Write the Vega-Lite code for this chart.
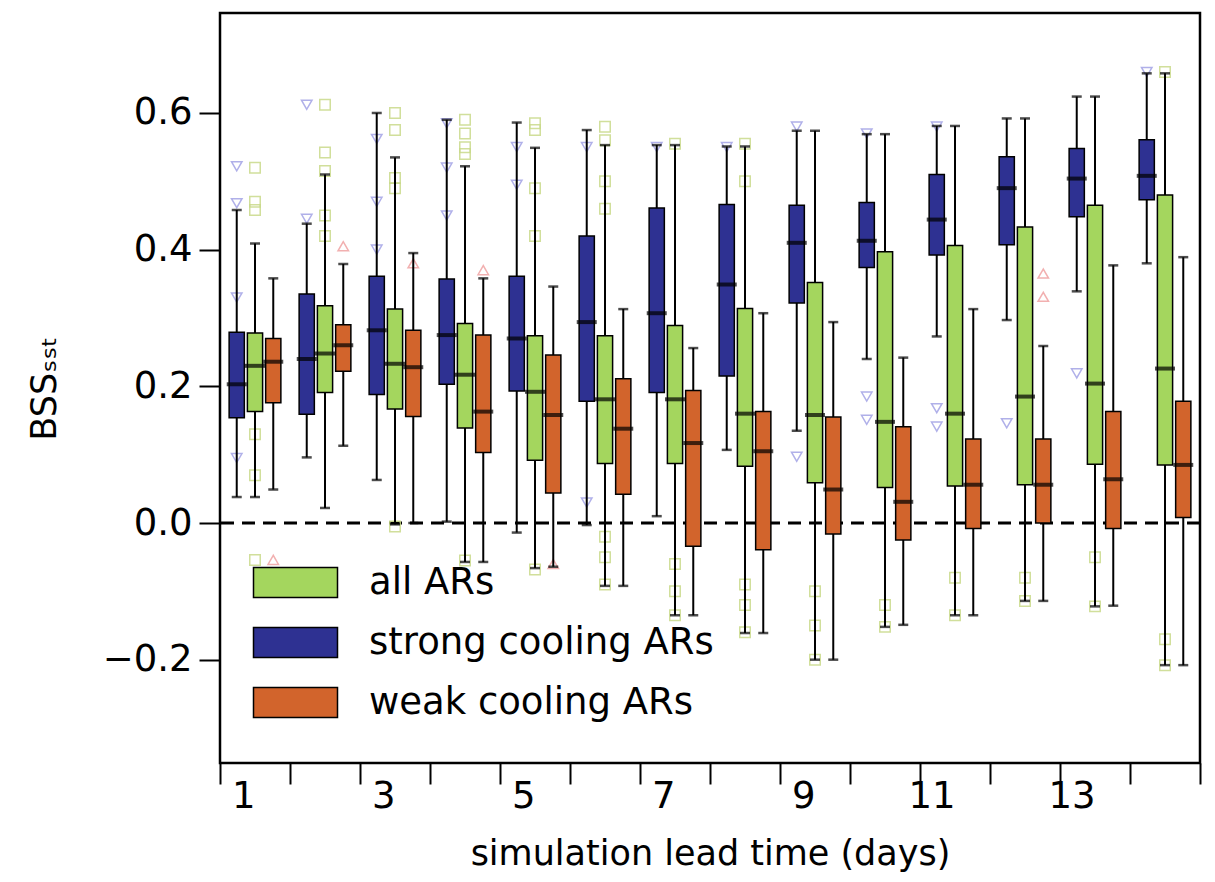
{
  "$schema": "https://vega.github.io/schema/vega-lite/v6.json",
  "width": 980,
  "height": 750,
  "autosize": {"type": "none"},
  "padding": {"left": 220, "top": 13, "right": 15, "bottom": 119},
  "background": "white",
  "config": {
    "font": "DejaVu Sans",
    "view": {"stroke": "black", "strokeWidth": 2.5},
    "axis": {
      "domain": false, "grid": false, "tickColor": "black", "tickWidth": 2, "tickSize": 21,
      "labelColor": "black", "titleColor": "black", "labelFont": "DejaVu Sans", "titleFont": "DejaVu Sans",
      "labelFontSize": 37, "titleFontSize": 35, "titleFontWeight": "normal"
    }
  },
  "datasets": {
    "boxes": [
      {"day": 1, "group": "strong cooling ARs", "lo": 0.038, "q1": 0.154, "med": 0.203, "q3": 0.279, "hi": 0.458},
      {"day": 1, "group": "all ARs", "lo": 0.038, "q1": 0.163, "med": 0.230, "q3": 0.278, "hi": 0.409},
      {"day": 1, "group": "weak cooling ARs", "lo": 0.049, "q1": 0.176, "med": 0.236, "q3": 0.270, "hi": 0.358},
      {"day": 2, "group": "strong cooling ARs", "lo": 0.096, "q1": 0.159, "med": 0.240, "q3": 0.335, "hi": 0.438},
      {"day": 2, "group": "all ARs", "lo": 0.022, "q1": 0.191, "med": 0.248, "q3": 0.318, "hi": 0.510},
      {"day": 2, "group": "weak cooling ARs", "lo": 0.113, "q1": 0.222, "med": 0.260, "q3": 0.290, "hi": 0.379},
      {"day": 3, "group": "strong cooling ARs", "lo": 0.063, "q1": 0.188, "med": 0.282, "q3": 0.361, "hi": 0.600},
      {"day": 3, "group": "all ARs", "lo": -0.002, "q1": 0.167, "med": 0.233, "q3": 0.313, "hi": 0.535},
      {"day": 3, "group": "weak cooling ARs", "lo": 0.000, "q1": 0.156, "med": 0.228, "q3": 0.282, "hi": 0.395},
      {"day": 4, "group": "strong cooling ARs", "lo": 0.002, "q1": 0.203, "med": 0.275, "q3": 0.357, "hi": 0.590},
      {"day": 4, "group": "all ARs", "lo": -0.057, "q1": 0.139, "med": 0.217, "q3": 0.292, "hi": 0.522},
      {"day": 4, "group": "weak cooling ARs", "lo": -0.057, "q1": 0.103, "med": 0.163, "q3": 0.275, "hi": 0.358},
      {"day": 5, "group": "strong cooling ARs", "lo": -0.014, "q1": 0.193, "med": 0.270, "q3": 0.361, "hi": 0.586},
      {"day": 5, "group": "all ARs", "lo": -0.066, "q1": 0.092, "med": 0.192, "q3": 0.274, "hi": 0.549},
      {"day": 5, "group": "weak cooling ARs", "lo": -0.064, "q1": 0.044, "med": 0.158, "q3": 0.246, "hi": 0.346},
      {"day": 6, "group": "strong cooling ARs", "lo": -0.003, "q1": 0.178, "med": 0.294, "q3": 0.420, "hi": 0.575},
      {"day": 6, "group": "all ARs", "lo": -0.092, "q1": 0.087, "med": 0.181, "q3": 0.274, "hi": 0.553},
      {"day": 6, "group": "weak cooling ARs", "lo": -0.092, "q1": 0.042, "med": 0.138, "q3": 0.211, "hi": 0.313},
      {"day": 7, "group": "strong cooling ARs", "lo": 0.010, "q1": 0.191, "med": 0.307, "q3": 0.461, "hi": 0.553},
      {"day": 7, "group": "all ARs", "lo": -0.135, "q1": 0.087, "med": 0.181, "q3": 0.289, "hi": 0.553},
      {"day": 7, "group": "weak cooling ARs", "lo": -0.135, "q1": -0.034, "med": 0.117, "q3": 0.194, "hi": 0.256},
      {"day": 8, "group": "strong cooling ARs", "lo": 0.107, "q1": 0.215, "med": 0.349, "q3": 0.466, "hi": 0.551},
      {"day": 8, "group": "all ARs", "lo": -0.161, "q1": 0.083, "med": 0.160, "q3": 0.314, "hi": 0.551},
      {"day": 8, "group": "weak cooling ARs", "lo": -0.161, "q1": -0.039, "med": 0.105, "q3": 0.163, "hi": 0.307},
      {"day": 9, "group": "strong cooling ARs", "lo": 0.135, "q1": 0.322, "med": 0.410, "q3": 0.465, "hi": 0.574},
      {"day": 9, "group": "all ARs", "lo": -0.200, "q1": 0.059, "med": 0.158, "q3": 0.352, "hi": 0.574},
      {"day": 9, "group": "weak cooling ARs", "lo": -0.200, "q1": -0.016, "med": 0.049, "q3": 0.155, "hi": 0.294},
      {"day": 10, "group": "strong cooling ARs", "lo": 0.240, "q1": 0.374, "med": 0.413, "q3": 0.469, "hi": 0.569},
      {"day": 10, "group": "all ARs", "lo": -0.152, "q1": 0.052, "med": 0.148, "q3": 0.397, "hi": 0.569},
      {"day": 10, "group": "weak cooling ARs", "lo": -0.149, "q1": -0.025, "med": 0.031, "q3": 0.141, "hi": 0.242},
      {"day": 11, "group": "strong cooling ARs", "lo": 0.273, "q1": 0.392, "med": 0.444, "q3": 0.510, "hi": 0.581},
      {"day": 11, "group": "all ARs", "lo": -0.135, "q1": 0.054, "med": 0.160, "q3": 0.406, "hi": 0.581},
      {"day": 11, "group": "weak cooling ARs", "lo": -0.135, "q1": -0.008, "med": 0.056, "q3": 0.123, "hi": 0.313},
      {"day": 12, "group": "strong cooling ARs", "lo": 0.297, "q1": 0.407, "med": 0.490, "q3": 0.536, "hi": 0.592},
      {"day": 12, "group": "all ARs", "lo": -0.114, "q1": 0.056, "med": 0.185, "q3": 0.433, "hi": 0.592},
      {"day": 12, "group": "weak cooling ARs", "lo": -0.114, "q1": 0.000, "med": 0.056, "q3": 0.123, "hi": 0.259},
      {"day": 13, "group": "strong cooling ARs", "lo": 0.339, "q1": 0.448, "med": 0.504, "q3": 0.548, "hi": 0.624},
      {"day": 13, "group": "all ARs", "lo": -0.122, "q1": 0.086, "med": 0.204, "q3": 0.465, "hi": 0.624},
      {"day": 13, "group": "weak cooling ARs", "lo": -0.121, "q1": -0.008, "med": 0.064, "q3": 0.163, "hi": 0.377},
      {"day": 14, "group": "strong cooling ARs", "lo": 0.380, "q1": 0.473, "med": 0.508, "q3": 0.561, "hi": 0.658},
      {"day": 14, "group": "all ARs", "lo": -0.208, "q1": 0.085, "med": 0.226, "q3": 0.480, "hi": 0.658},
      {"day": 14, "group": "weak cooling ARs", "lo": -0.208, "q1": 0.008, "med": 0.085, "q3": 0.178, "hi": 0.389}
    ],
    "outliers": [
      {"day": 1, "group": "strong cooling ARs", "value": 0.522}, {"day": 1, "group": "strong cooling ARs", "value": 0.468},
      {"day": 1, "group": "strong cooling ARs", "value": 0.33}, {"day": 1, "group": "strong cooling ARs", "value": 0.095},
      {"day": 1, "group": "all ARs", "value": 0.520}, {"day": 1, "group": "all ARs", "value": 0.470}, {"day": 1, "group": "all ARs", "value": 0.458},
      {"day": 1, "group": "all ARs", "value": 0.13}, {"day": 1, "group": "all ARs", "value": 0.07}, {"day": 1, "group": "all ARs", "value": -0.054},
      {"day": 1, "group": "weak cooling ARs", "value": -0.054},
      {"day": 2, "group": "strong cooling ARs", "value": 0.612}, {"day": 2, "group": "strong cooling ARs", "value": 0.445},
      {"day": 2, "group": "all ARs", "value": 0.612}, {"day": 2, "group": "all ARs", "value": 0.542}, {"day": 2, "group": "all ARs", "value": 0.515},
      {"day": 2, "group": "all ARs", "value": 0.45}, {"day": 2, "group": "all ARs", "value": 0.42},
      {"day": 2, "group": "weak cooling ARs", "value": 0.405},
      {"day": 3, "group": "strong cooling ARs", "value": 0.562}, {"day": 3, "group": "strong cooling ARs", "value": 0.47}, {"day": 3, "group": "strong cooling ARs", "value": 0.40},
      {"day": 3, "group": "all ARs", "value": 0.600}, {"day": 3, "group": "all ARs", "value": 0.575}, {"day": 3, "group": "all ARs", "value": 0.505},
      {"day": 3, "group": "all ARs", "value": 0.49}, {"day": 3, "group": "all ARs", "value": -0.005},
      {"day": 3, "group": "weak cooling ARs", "value": 0.38},
      {"day": 4, "group": "strong cooling ARs", "value": 0.585}, {"day": 4, "group": "strong cooling ARs", "value": 0.52}, {"day": 4, "group": "strong cooling ARs", "value": 0.45},
      {"day": 4, "group": "all ARs", "value": 0.590}, {"day": 4, "group": "all ARs", "value": 0.570}, {"day": 4, "group": "all ARs", "value": 0.550},
      {"day": 4, "group": "all ARs", "value": 0.540}, {"day": 4, "group": "all ARs", "value": -0.055},
      {"day": 4, "group": "weak cooling ARs", "value": 0.37},
      {"day": 5, "group": "strong cooling ARs", "value": 0.495}, {"day": 5, "group": "strong cooling ARs", "value": 0.55},
      {"day": 5, "group": "all ARs", "value": 0.585}, {"day": 5, "group": "all ARs", "value": 0.575}, {"day": 5, "group": "all ARs", "value": 0.490},
      {"day": 5, "group": "all ARs", "value": 0.420}, {"day": 5, "group": "all ARs", "value": -0.068},
      {"day": 5, "group": "weak cooling ARs", "value": -0.06},
      {"day": 6, "group": "strong cooling ARs", "value": 0.03}, {"day": 6, "group": "strong cooling ARs", "value": 0.55},
      {"day": 6, "group": "all ARs", "value": 0.580}, {"day": 6, "group": "all ARs", "value": 0.560}, {"day": 6, "group": "all ARs", "value": 0.500},
      {"day": 6, "group": "all ARs", "value": 0.460}, {"day": 6, "group": "all ARs", "value": -0.09}, {"day": 6, "group": "all ARs", "value": -0.05},
      {"day": 6, "group": "all ARs", "value": -0.02},
      {"day": 7, "group": "all ARs", "value": 0.555}, {"day": 7, "group": "all ARs", "value": -0.135}, {"day": 7, "group": "all ARs", "value": -0.10},
      {"day": 7, "group": "all ARs", "value": -0.06}, {"day": 7, "group": "strong cooling ARs", "value": 0.55},
      {"day": 8, "group": "all ARs", "value": 0.555}, {"day": 8, "group": "all ARs", "value": -0.16}, {"day": 8, "group": "all ARs", "value": -0.12},
      {"day": 8, "group": "all ARs", "value": -0.09}, {"day": 8, "group": "all ARs", "value": 0.50}, {"day": 8, "group": "strong cooling ARs", "value": 0.55},
      {"day": 9, "group": "strong cooling ARs", "value": 0.097}, {"day": 9, "group": "all ARs", "value": -0.200}, {"day": 9, "group": "all ARs", "value": -0.15},
      {"day": 9, "group": "all ARs", "value": -0.10}, {"day": 9, "group": "strong cooling ARs", "value": 0.58},
      {"day": 10, "group": "strong cooling ARs", "value": 0.185}, {"day": 10, "group": "strong cooling ARs", "value": 0.151},
      {"day": 10, "group": "all ARs", "value": -0.152}, {"day": 10, "group": "all ARs", "value": -0.12}, {"day": 10, "group": "strong cooling ARs", "value": 0.57},
      {"day": 11, "group": "strong cooling ARs", "value": 0.168}, {"day": 11, "group": "strong cooling ARs", "value": 0.141},
      {"day": 11, "group": "all ARs", "value": -0.135}, {"day": 11, "group": "all ARs", "value": -0.08}, {"day": 11, "group": "strong cooling ARs", "value": 0.58},
      {"day": 12, "group": "strong cooling ARs", "value": 0.146}, {"day": 12, "group": "weak cooling ARs", "value": 0.365}, {"day": 12, "group": "weak cooling ARs", "value": 0.331},
      {"day": 12, "group": "all ARs", "value": -0.114}, {"day": 12, "group": "all ARs", "value": -0.08},
      {"day": 13, "group": "strong cooling ARs", "value": 0.219}, {"day": 13, "group": "all ARs", "value": -0.122}, {"day": 13, "group": "all ARs", "value": -0.05},
      {"day": 14, "group": "all ARs", "value": -0.208}, {"day": 14, "group": "all ARs", "value": -0.17}, {"day": 14, "group": "strong cooling ARs", "value": 0.66},
      {"day": 14, "group": "all ARs", "value": 0.66}
    ]
  },
  "layer": [
    {
      "data": {"values": [{}]},
      "mark": {"type": "rule", "strokeDash": [13, 8], "strokeWidth": 2.8, "color": "black"},
      "encoding": {"y": {"datum": 0, "type": "quantitative", "title": "BSSₛₛₜ"}}
    },
    {
      "data": {"name": "outliers"},
      "mark": {"type": "point", "filled": false, "strokeWidth": 1.5, "size": 110, "opacity": 0.85},
      "encoding": {
        "x": {"field": "day", "type": "ordinal", "title": "simulation lead time (days)"},
        "xOffset": {"field": "group", "type": "nominal", "scale": {"domain": ["strong cooling ARs", "all ARs", "weak cooling ARs"], "paddingInner": 0.167, "paddingOuter": 0.5}},
        "y": {"field": "value", "type": "quantitative", "title": "BSSₛₛₜ"},
        "shape": {"field": "group", "type": "nominal", "scale": {"domain": ["strong cooling ARs", "all ARs", "weak cooling ARs"], "range": ["triangle-down", "square", "triangle-up"]}, "legend": null},
        "stroke": {"field": "group", "type": "nominal", "scale": {"domain": ["strong cooling ARs", "all ARs", "weak cooling ARs"], "range": ["#a3a3e6", "#c9da8a", "#f0a3a3"]}, "legend": null}
      }
    },
    {
      "data": {"name": "boxes"},
      "mark": {"type": "rule", "strokeWidth": 2, "color": "black"},
      "encoding": {
        "x": {
          "field": "day", "type": "ordinal", "title": "simulation lead time (days)",
          "scale": {"paddingInner": 0, "paddingOuter": 0},
          "axis": {"labelAngle": 0, "tickBand": "extent", "labelExpr": "datum.value % 2 == 1 ? datum.label : ''", "labelPadding": 12, "titlePadding": 22}
        },
        "xOffset": {"field": "group", "type": "nominal", "scale": {"domain": ["strong cooling ARs", "all ARs", "weak cooling ARs"], "paddingInner": 0.167, "paddingOuter": 0.5}},
        "y": {
          "field": "lo", "type": "quantitative", "title": "BSSₛₛₜ",
          "scale": {"domain": [-0.3512, 0.7463], "nice": false, "zero": false},
          "axis": {"values": [-0.2, 0, 0.2, 0.4, 0.6], "format": ".1f", "labelPadding": 7, "titlePadding": 40}
        },
        "y2": {"field": "hi"}
      }
    },
    {
      "data": {"name": "boxes"},
      "mark": {"type": "tick", "color": "black", "thickness": 2.5, "size": 10},
      "encoding": {
        "x": {"field": "day", "type": "ordinal", "title": "simulation lead time (days)"},
        "xOffset": {"field": "group", "type": "nominal", "scale": {"domain": ["strong cooling ARs", "all ARs", "weak cooling ARs"], "paddingInner": 0.167, "paddingOuter": 0.5}},
        "y": {"field": "lo", "type": "quantitative", "title": "BSSₛₛₜ"}
      }
    },
    {
      "data": {"name": "boxes"},
      "mark": {"type": "tick", "color": "black", "thickness": 2.5, "size": 10},
      "encoding": {
        "x": {"field": "day", "type": "ordinal", "title": "simulation lead time (days)"},
        "xOffset": {"field": "group", "type": "nominal", "scale": {"domain": ["strong cooling ARs", "all ARs", "weak cooling ARs"], "paddingInner": 0.167, "paddingOuter": 0.5}},
        "y": {"field": "hi", "type": "quantitative", "title": "BSSₛₛₜ"}
      }
    },
    {
      "data": {"name": "boxes"},
      "mark": {"type": "bar", "stroke": "black", "strokeWidth": 1.5},
      "encoding": {
        "x": {"field": "day", "type": "ordinal", "title": "simulation lead time (days)"},
        "xOffset": {"field": "group", "type": "nominal", "scale": {"domain": ["strong cooling ARs", "all ARs", "weak cooling ARs"], "paddingInner": 0.167, "paddingOuter": 0.5}},
        "y": {"field": "q1", "type": "quantitative", "title": "BSSₛₛₜ"},
        "y2": {"field": "q3"},
        "fill": {
          "field": "group", "type": "nominal",
          "scale": {"domain": ["all ARs", "strong cooling ARs", "weak cooling ARs"], "range": ["#A4D65E", "#2E3192", "#D2642C"]},
          "legend": {
            "title": null, "orient": "none", "legendX": 57, "legendY": 551, "padding": 0,
            "symbolType": "M-2.8,-1H2.8V1H-2.8Z", "symbolSize": 900, "symbolStrokeColor": "black", "symbolStrokeWidth": 1.5, "symbolOpacity": 1,
            "labelFontSize": 37, "labelFont": "DejaVu Sans", "labelColor": "black", "labelOffset": 55, "labelLimit": 1000, "rowPadding": 22
          }
        }
      }
    },
    {
      "data": {"name": "boxes"},
      "mark": {"type": "tick", "color": "black", "thickness": 4, "size": 20},
      "encoding": {
        "x": {"field": "day", "type": "ordinal", "title": "simulation lead time (days)"},
        "xOffset": {"field": "group", "type": "nominal", "scale": {"domain": ["strong cooling ARs", "all ARs", "weak cooling ARs"], "paddingInner": 0.167, "paddingOuter": 0.5}},
        "y": {"field": "med", "type": "quantitative", "title": "BSSₛₛₜ"}
      }
    }
  ]
}
